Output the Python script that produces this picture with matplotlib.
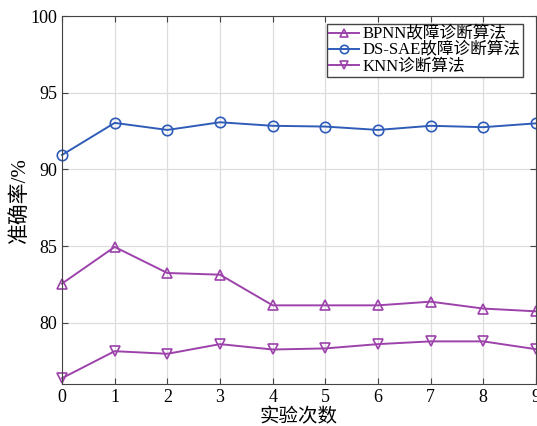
import matplotlib.pyplot as plt
import numpy as np

plt.rcParams['font.family'] = ['Liberation Serif', 'Noto Sans CJK SC']
plt.rcParams['axes.unicode_minus'] = False

runs = np.arange(10)
bpnn = [82.55, 84.94, 83.24, 83.13, 81.13, 81.13, 81.13, 81.37, 80.92, 80.74]
dssae = [90.94, 93.03, 92.57, 93.07, 92.84, 92.79, 92.57, 92.84, 92.75, 93.00]
knn = [76.38, 78.14, 77.97, 78.60, 78.25, 78.32, 78.60, 78.78, 78.78, 78.27]

purple = '#9C42AA'
blue = '#2E5CB8'

fig = plt.figure(figsize=(5.37, 4.26), dpi=100)
ax = fig.add_axes([0.1155, 0.0986, 0.8825, 0.8638])

ax.plot(runs, bpnn, color=purple, marker='^', markersize=7.5, markerfacecolor='none',
        markeredgewidth=1.2, linewidth=1.4, label='BPNN故障诊断算法', clip_on=False)
ax.plot(runs, dssae, color=blue, marker='o', markersize=7.5, markerfacecolor='none',
        markeredgewidth=1.2, linewidth=1.4, label='DS-SAE故障诊断算法', clip_on=False)
ax.plot(runs, knn, color=purple, marker='v', markersize=7.5, markerfacecolor='none',
        markeredgewidth=1.2, linewidth=1.4, label='KNN诊断算法', clip_on=False)

ax.set_xlim(0, 9)
ax.set_ylim(76, 100)
ax.set_xticks(runs)
ax.set_yticks([80, 85, 90, 95, 100])
ax.tick_params(direction='in', labelsize=13, top=True, right=True, color='#444444', length=4)
ax.grid(True, color='#dddddd', linewidth=0.9)
for s in ax.spines.values():
    s.set_color('#444444')

ax.set_xlabel('实验次数', fontsize=14, labelpad=2)
ax.set_ylabel('准确率/%', fontsize=15, labelpad=0)

leg = ax.legend(loc='upper right', fontsize=12, fancybox=False, edgecolor='#444444',
                framealpha=1, handlelength=1.8, borderpad=0.15, labelspacing=0.0,
                handletextpad=0.2, borderaxespad=0, markerscale=0.8,
                bbox_to_anchor=(0.9726, 0.978))
leg.get_frame().set_linewidth(1.0)

fig.savefig('out.png', dpi=100)
